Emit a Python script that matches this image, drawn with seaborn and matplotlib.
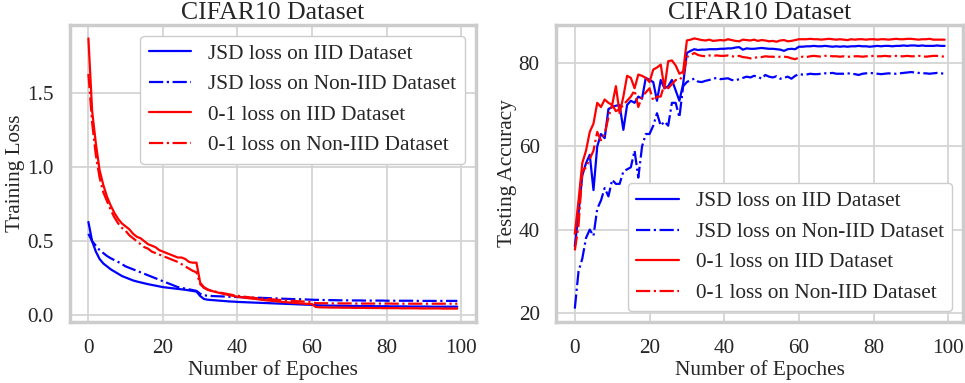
import numpy as np
import pandas as pd
import seaborn as sns
import matplotlib
matplotlib.use("Agg")
import matplotlib.pyplot as plt

# Epochs
epochs = list(range(100))

# Training loss (left panel)
jsd_iid_loss = [
    0.63, 0.50, 0.43, 0.38, 0.35, 0.33, 0.31, 0.295, 0.28, 0.265,
    0.255, 0.245, 0.235, 0.228, 0.222, 0.216, 0.210, 0.205, 0.200, 0.195,
    0.190, 0.187, 0.184, 0.181, 0.178, 0.175, 0.172, 0.168, 0.164, 0.160,
    0.130, 0.110, 0.105, 0.103, 0.101, 0.099, 0.097, 0.095, 0.093, 0.092,
    0.090, 0.089, 0.088, 0.087, 0.086, 0.085, 0.084, 0.083, 0.082, 0.081,
    0.080, 0.079, 0.078, 0.077, 0.076, 0.075, 0.074, 0.073, 0.072, 0.071,
    0.070, 0.068, 0.067, 0.066, 0.066, 0.065, 0.065, 0.064, 0.064, 0.064,
    0.063, 0.063, 0.063, 0.062, 0.062, 0.062, 0.062, 0.061, 0.061, 0.061,
    0.061, 0.060, 0.060, 0.060, 0.060, 0.060, 0.059, 0.059, 0.059, 0.059,
    0.059, 0.059, 0.058, 0.058, 0.058, 0.058, 0.058, 0.058, 0.058, 0.058,
]
jsd_noniid_loss = [
    0.55, 0.50, 0.47, 0.44, 0.42, 0.40, 0.385, 0.372, 0.36, 0.345,
    0.33, 0.32, 0.31, 0.30, 0.29, 0.28, 0.27, 0.26, 0.25, 0.24,
    0.23, 0.22, 0.21, 0.20, 0.19, 0.185, 0.18, 0.175, 0.17, 0.165,
    0.145, 0.135, 0.132, 0.130, 0.129, 0.128, 0.127, 0.126, 0.125, 0.124,
    0.123, 0.122, 0.121, 0.120, 0.119, 0.118, 0.118, 0.117, 0.116, 0.115,
    0.114, 0.113, 0.112, 0.111, 0.110, 0.109, 0.108, 0.108, 0.107, 0.106,
    0.105, 0.104, 0.104, 0.103, 0.103, 0.102, 0.102, 0.101, 0.101, 0.101,
    0.100, 0.100, 0.100, 0.100, 0.099, 0.099, 0.099, 0.099, 0.099, 0.099,
    0.098, 0.098, 0.098, 0.098, 0.098, 0.098, 0.098, 0.098, 0.097, 0.097,
    0.097, 0.097, 0.097, 0.097, 0.097, 0.097, 0.097, 0.097, 0.097, 0.097,
]
zo_iid_loss = [
    1.87, 1.38, 1.16, 0.98, 0.88, 0.80, 0.74, 0.69, 0.65, 0.62,
    0.60, 0.58, 0.55, 0.53, 0.52, 0.50, 0.48, 0.47, 0.46, 0.44,
    0.43, 0.42, 0.41, 0.40, 0.39, 0.39, 0.38, 0.36, 0.355, 0.355,
    0.22, 0.19, 0.175, 0.165, 0.158, 0.152, 0.146, 0.140, 0.135, 0.130,
    0.125, 0.122, 0.118, 0.115, 0.112, 0.110, 0.106, 0.103, 0.100, 0.098,
    0.095, 0.093, 0.090, 0.088, 0.086, 0.084, 0.082, 0.080, 0.078, 0.076,
    0.075, 0.056, 0.054, 0.053, 0.053, 0.052, 0.052, 0.052, 0.051, 0.051,
    0.051, 0.050, 0.050, 0.050, 0.050, 0.049, 0.049, 0.049, 0.049, 0.048,
    0.048, 0.048, 0.048, 0.048, 0.047, 0.047, 0.047, 0.047, 0.047, 0.046,
    0.046, 0.046, 0.046, 0.046, 0.046, 0.045, 0.045, 0.045, 0.045, 0.045,
]
zo_noniid_loss = [
    1.63, 1.30, 1.08, 0.93, 0.83, 0.77, 0.71, 0.66, 0.62, 0.59,
    0.57, 0.54, 0.52, 0.50, 0.48, 0.46, 0.45, 0.43, 0.42, 0.41,
    0.40, 0.39, 0.38, 0.37, 0.36, 0.345, 0.33, 0.315, 0.30, 0.29,
    0.21, 0.185, 0.172, 0.165, 0.160, 0.155, 0.150, 0.145, 0.140, 0.136,
    0.132, 0.128, 0.125, 0.122, 0.119, 0.116, 0.114, 0.112, 0.110, 0.108,
    0.106, 0.104, 0.102, 0.100, 0.098, 0.097, 0.095, 0.094, 0.092, 0.091,
    0.090, 0.082, 0.081, 0.081, 0.081, 0.080, 0.080, 0.080, 0.080, 0.080,
    0.080, 0.080, 0.079, 0.079, 0.079, 0.079, 0.079, 0.079, 0.079, 0.079,
    0.079, 0.079, 0.078, 0.078, 0.078, 0.078, 0.078, 0.078, 0.078, 0.078,
    0.078, 0.078, 0.078, 0.078, 0.078, 0.078, 0.078, 0.078, 0.078, 0.078,
]

# Testing accuracy (right panel)
jsd_iid_acc = [
    36, 44, 53, 56, 58, 49.5, 60, 63, 62, 69,
    69.5, 69.8, 70, 64, 70, 71, 70.5, 72, 71.5, 76.5,
    76, 75.5, 71, 76, 74, 74.5, 76, 73.5, 71, 75,
    82.5, 83.0, 83.4, 83.2, 83.3, 83.3, 83.4, 83.4, 83.4, 83.5,
    83.5, 83.6, 83.6, 83.8, 83.9, 83.3, 83.6, 83.5, 83.5, 83.6,
    83.7, 83.6, 83.5, 83.5, 83.4, 83.3, 83.0, 83.4, 83.5, 83.4,
    84.0, 84.0, 84.1, 84.1, 84.2, 84.1, 84.1, 84.2, 84.1, 84.0,
    84.1, 84.0, 84.1, 84.0, 84.1, 84.1, 84.2, 84.1, 84.1, 84.0,
    84.1, 84.2, 84.1, 84.2, 84.2, 84.1, 84.2, 84.2, 84.3, 84.2,
    84.3, 84.3, 84.2, 84.3, 84.2, 84.2, 84.2, 84.3, 84.2, 84.2,
]
jsd_noniid_acc = [
    21, 30, 33, 38, 40, 38.5, 45, 47, 50, 48,
    52, 51, 51, 54, 54.5, 55, 59, 52.5, 60, 63,
    63, 65, 68, 65, 66, 65, 70.5, 70.5, 67, 74.5,
    75.5, 76.0, 76.3, 75.6, 75.5, 75.8, 76.0, 76.3, 76.5, 76.2,
    76.3, 76.4, 76.0, 75.9, 76.2, 76.5, 76.8, 76.6, 77.0, 76.8,
    76.3, 77.2, 76.8, 76.6, 76.9, 76.3, 76.5, 76.8, 76.3, 77.0,
    77.4, 77.3, 77.3, 77.5, 77.4, 77.4, 77.5, 77.6, 77.6, 77.7,
    77.5, 77.5, 77.5, 77.6, 77.5, 77.4, 77.2, 77.5, 77.6, 77.7,
    77.6, 77.5, 77.4, 77.5, 77.6, 77.5, 77.5, 77.6, 77.7, 77.8,
    77.9, 77.8, 77.7, 77.6, 77.6, 77.5, 77.6, 77.7, 77.6, 77.5,
]
zo_iid_acc = [
    39, 47, 56, 59, 63.5, 65.5, 70.5, 69.5, 71.3, 70.5,
    70, 74.5, 68, 72, 77, 76.5, 74, 77.3, 77, 76.5,
    75.5, 78.5, 79, 79.7, 74, 80.5, 80.7, 79.5, 77.5, 78,
    85.5, 85.7, 86.0, 85.8, 85.6, 85.5, 85.7, 85.4, 85.5, 85.6,
    85.5, 85.8, 85.6, 85.4, 85.3, 85.7, 85.6, 85.5, 85.7, 85.4,
    85.6, 85.5, 85.3, 85.4, 85.2, 85.5, 85.6, 85.3, 85.4, 85.6,
    85.8, 85.8, 85.8, 85.9, 85.8, 85.8, 85.7, 85.8, 85.9, 85.8,
    85.7, 85.8, 85.7, 85.6, 85.8, 85.7, 85.8, 85.8, 85.7, 85.8,
    85.8, 85.7, 85.8, 85.8, 85.7, 85.8, 85.9, 85.8, 85.8, 85.9,
    85.9, 85.8, 85.7, 85.8, 85.8, 85.9, 85.7, 85.7, 85.7, 85.7,
]
zo_noniid_acc = [
    35, 41, 54, 55, 57, 59, 63.5, 61.5, 63, 67,
    70, 68.5, 69, 70, 71, 72, 73.5, 69.5, 72, 73,
    74, 71, 72, 72, 75, 74, 75, 76, 76, 77,
    81.5, 82.0, 82.5, 82.0, 81.8, 81.7, 81.9, 81.8, 81.9, 81.8,
    81.8, 81.9, 81.7, 81.6, 81.8, 81.5, 81.4, 81.2, 81.3, 81.5,
    81.5, 81.7, 81.6, 81.6, 81.5, 81.6, 81.6, 81.5, 81.2, 81.0,
    81.4, 81.6, 81.5, 81.7, 81.8, 81.7, 81.6, 81.8, 81.8, 81.7,
    81.7, 81.6, 81.7, 81.6, 81.6, 81.7, 81.7, 81.6, 81.7, 81.7,
    81.8, 81.7, 81.7, 81.8, 81.7, 81.7, 81.8, 81.7, 81.7, 81.8,
    81.7, 81.7, 81.8, 81.7, 81.6, 81.7, 81.8, 81.8, 81.7, 81.6,
]

labels = [
    "JSD loss on IID Dataset",
    "JSD loss on Non-IID Dataset",
    "0-1 loss on IID Dataset",
    "0-1 loss on Non-IID Dataset",
]
colors = ["#0000ff", "#0000ff", "#ff0000", "#ff0000"]
styles = ["-", "-.", "-", "-."]

sns.set_theme(style="whitegrid")
plt.rcParams["font.family"] = ["Liberation Serif", "DejaVu Serif"]
plt.rcParams["axes.edgecolor"] = "#cccccc"
plt.rcParams["grid.color"] = "#d4d4d4"


def draw_panel(ax, series, ylabel, legend_loc):
    for vals, lab, col, ls in zip(series, labels, colors, styles):
        df = pd.DataFrame({"epoch": epochs, "value": vals})
        sns.lineplot(data=df, x="epoch", y="value", ax=ax, color=col,
                     linestyle=ls, linewidth=1.6, label=lab)
    ax.set_title("CIFAR10 Dataset", fontsize=18.5, pad=4)
    ax.set_xlabel("Number of Epoches", fontsize=15.3, labelpad=2)
    ax.set_ylabel(ylabel, fontsize=15.3, labelpad=1)
    ax.set_xticks([0, 20, 40, 60, 80, 100])
    ax.tick_params(labelsize=15.3, pad=6)
    ax.grid(True, linewidth=1.3)
    for sp in ax.spines.values():
        sp.set_linewidth(2.5)
        sp.set_color("#cccccc")
    ax.legend(loc=legend_loc, fontsize=15.3, frameon=True, framealpha=1.0,
              edgecolor="#cccccc")


fig = plt.figure(figsize=(9.65, 3.83), dpi=100)
ax1 = fig.add_axes([0.0725, 0.159, 0.4205, 0.776])
ax2 = fig.add_axes([0.5765, 0.159, 0.4215, 0.776])

draw_panel(ax1, [jsd_iid_loss, jsd_noniid_loss, zo_iid_loss, zo_noniid_loss],
           "Training Loss", "upper right")
ax1.set_yticks([0.0, 0.5, 1.0, 1.5])

draw_panel(ax2, [jsd_iid_acc, jsd_noniid_acc, zo_iid_acc, zo_noniid_acc],
           "Testing Accuracy", "lower right")
ax2.set_yticks([20, 40, 60, 80])

fig.savefig("out.png", dpi=100)
